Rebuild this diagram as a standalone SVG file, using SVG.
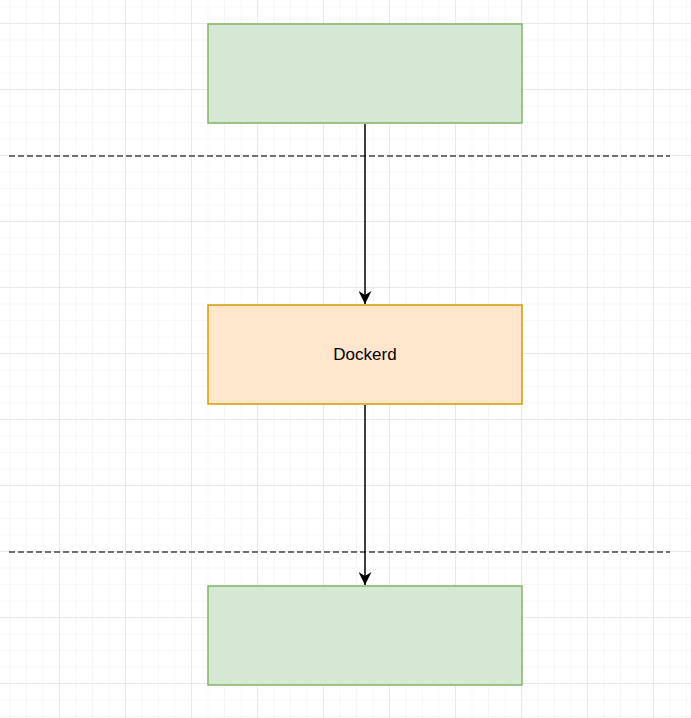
<svg xmlns="http://www.w3.org/2000/svg" width="691" height="718" viewBox="0 0 691 718">
<defs>
<pattern id="minor" x="9.5" y="6.5" width="16.5" height="16.5" patternUnits="userSpaceOnUse"><path d="M0 0H16.5M0 0V16.5" fill="none" stroke="#efefef" stroke-width="1"/></pattern>
<pattern id="major" x="59" y="23" width="66" height="66" patternUnits="userSpaceOnUse"><path d="M0 0H66M0 0V66" fill="none" stroke="#dcdcdc" stroke-width="1"/></pattern>
<marker id="arr" viewBox="0 0 10 10" refX="10" refY="5" markerWidth="13" markerHeight="13" markerUnits="userSpaceOnUse" orient="auto"><path d="M0 0L10 5L0 10L3 5Z" fill="#000"/></marker>
</defs>
<style>
.g{fill:#d5e8d4;stroke:#82b366;stroke-width:1.5}
.o{fill:#ffe6cc;stroke:#d79b00;stroke-width:1.5}
.d{stroke:#444;stroke-width:1.5;stroke-dasharray:6 3}
.c{stroke:#000;stroke-width:1.5;fill:none}
text{font-family:"Liberation Sans",Arial,sans-serif;font-size:17px}
</style>
<rect width="691" height="718" fill="#fff"/>
<rect width="691" height="718" fill="url(#minor)"/>
<rect width="691" height="718" fill="url(#major)"/>
<line class="d" x1="9" y1="156" x2="670" y2="156"/>
<line class="d" x1="9" y1="552" x2="670" y2="552"/>
<g id="connectors">
<line class="c" x1="365" y1="124" x2="365" y2="304" marker-end="url(#arr)"/>
<line class="c" x1="365" y1="405" x2="365" y2="585" marker-end="url(#arr)"/>
</g>
<g id="top"><rect class="g" x="208" y="24" width="314" height="99"/></g>
<g id="dockerd"><rect class="o" x="208" y="305" width="314" height="99"/><text x="365" y="360" text-anchor="middle">Dockerd</text></g>
<g id="bottom"><rect class="g" x="208" y="586" width="314" height="99"/></g>
</svg>
